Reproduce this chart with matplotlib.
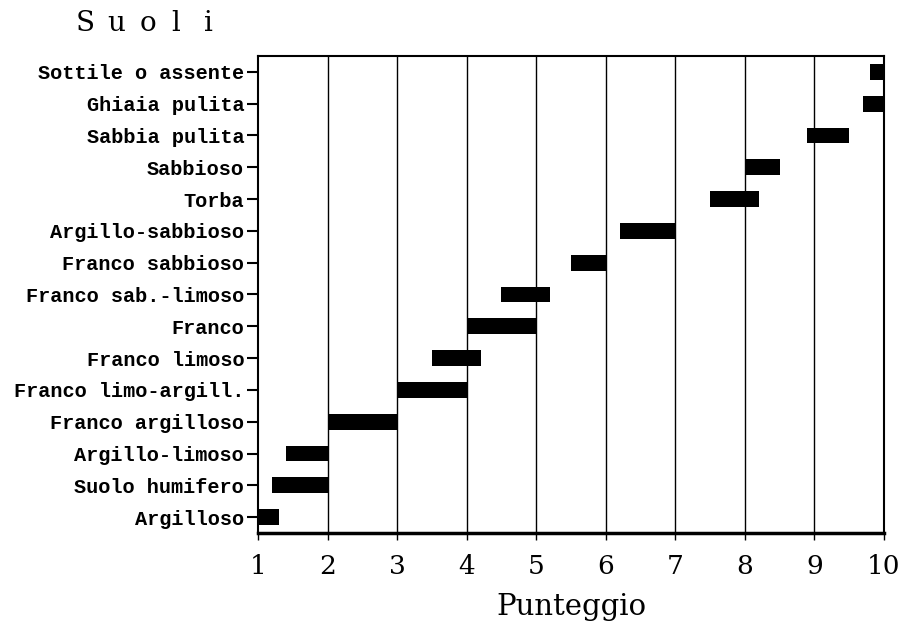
import matplotlib
matplotlib.use("Agg")
import matplotlib.pyplot as plt

categories = ["Sottile o assente", "Ghiaia pulita", "Sabbia pulita", "Sabbioso", "Torba",
              "Argillo-sabbioso", "Franco sabbioso", "Franco sab.-limoso", "Franco",
              "Franco limoso", "Franco limo-argill.", "Franco argilloso", "Argillo-limoso",
              "Suolo humifero", "Argilloso"]
starts = [9.8, 9.7, 8.9, 8.0, 7.5, 6.2, 5.5, 4.5, 4.0, 3.5, 3.0, 2.0, 1.4, 1.2, 1.0]
ends   = [10.0, 10.0, 9.5, 8.5, 8.2, 7.0, 6.0, 5.2, 5.0, 4.2, 4.0, 3.0, 2.0, 2.0, 1.3]
xticks = [1, 2, 3, 4, 5, 6, 7, 8, 9, 10]
title = "Suoli"

fig = plt.figure(figsize=(9.06, 6.24), dpi=100)
ax = fig.add_axes([0.2848, 0.1458, 0.9757 - 0.2848, 0.9103 - 0.1458])

ypos = list(range(len(categories)))
widths = [e - s for s, e in zip(starts, ends)]
ax.barh(ypos, widths, left=starts, height=0.5, color="black", zorder=3)

ax.set_xlim(1, 10)
ax.set_ylim(len(categories) - 0.5, -0.5)
ax.set_xticks(xticks)
ax.set_xticklabels([str(t) for t in xticks], family="DejaVu Serif", fontsize=19)
ax.set_yticks(ypos)
ax.set_yticklabels(categories, family="Liberation Mono", fontweight="bold", fontsize=14.6)
for t in range(2, 10):
    ax.axvline(t, color="black", lw=1.0, zorder=1)

for s in ax.spines.values():
    s.set_linewidth(1.5)
ax.spines["bottom"].set_linewidth(2.5)
ax.tick_params(axis="y", length=8, width=1.5, pad=2)
ax.tick_params(axis="x", length=5, width=1.0, pad=10)

ax.set_xlabel("Punteggio", family="DejaVu Serif", fontsize=21, labelpad=10)
for i, ch in enumerate(title):
    fig.text(0.083 + i * 0.0355, 0.962, ch, family="DejaVu Serif", fontsize=20,
             va="center", ha="left")

fig.savefig("out.png", dpi=100)
